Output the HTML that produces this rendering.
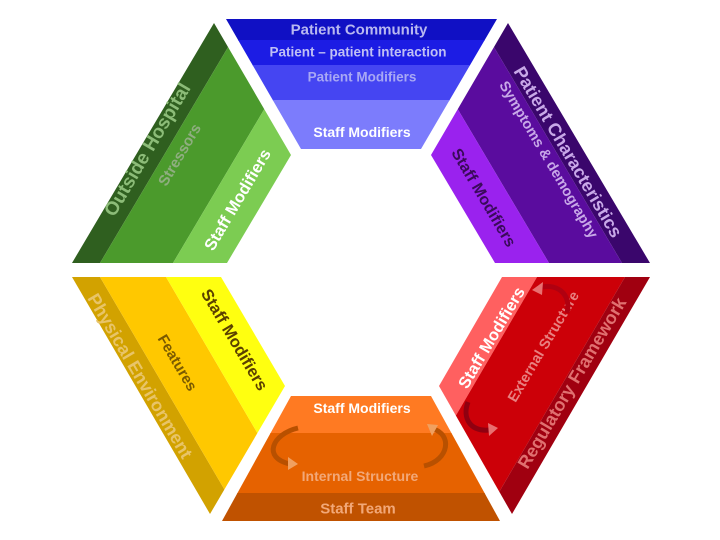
<!DOCTYPE html>
<html><head><meta charset="utf-8"><style>
html,body{margin:0;padding:0;background:#fff;}
svg{display:block;}
text{font-family:"Liberation Sans",sans-serif;font-weight:bold;text-anchor:middle;dominant-baseline:central;}
</style></head><body>
<svg width="720" height="540" viewBox="0 0 720 540" xmlns="http://www.w3.org/2000/svg">
<defs>
<clipPath id="cb"><polygon points="226,19 497,19 421,149 301,149"/></clipPath>
<clipPath id="cg"><polygon points="214,23 291,155 227,263 72,263"/></clipPath>
<clipPath id="cp"><polygon points="508,23 431,155 495,263 650,263"/></clipPath>
<clipPath id="cy"><polygon points="72,277 221,277 285,386 210,514"/></clipPath>
<clipPath id="cr"><polygon points="502,277 650,277 512,514 439,386"/></clipPath>
<clipPath id="co"><polygon points="291,396 431,396 500,521 222,521"/></clipPath>
</defs>

<!-- Blue top -->
<g clip-path="url(#cb)">
<rect x="200" y="0" width="320" height="41" fill="#1010c4"/>
<rect x="200" y="40" width="320" height="26" fill="#1c1ce4"/>
<rect x="200" y="65" width="320" height="36" fill="#4545f2"/>
<rect x="200" y="100" width="320" height="60" fill="#7c7cfc"/>
</g>
<text x="359" y="30" font-size="15" fill="#b8b8f0">Patient Community</text>
<text x="358" y="52" font-size="13.5" fill="#c0c0f4">Patient – patient interaction</text>
<text x="362" y="77" font-size="13.5" fill="#a8a8f4">Patient Modifiers</text>
<text x="362" y="132" font-size="14" fill="#ffffff">Staff Modifiers</text>

<!-- Green -->
<g clip-path="url(#cg)">
<polygon points="40,263 100,263 256,0 196,0" fill="#2f5f1f"/>
<polygon points="100,263 173,263 329,0 256,0" fill="#4b9a2c"/>
<polygon points="173,263 320,263 476,0 329,0" fill="#7ccc52"/>
</g>
<text transform="translate(148,150) rotate(-59.4)" font-size="19" fill="#8cbc78">Outside Hospital</text>
<text transform="translate(180,155) rotate(-59.4)" font-size="15" fill="#8fae80">Stressors</text>
<text transform="translate(238,200) rotate(-59.4)" font-size="16.5" fill="#ffffff">Staff Modifiers</text>

<!-- Purple -->
<g clip-path="url(#cp)">
<polygon points="682,263 622,263 466,0 526,0" fill="#3a066c"/>
<polygon points="622,263 549,263 393,0 466,0" fill="#5a0c9e"/>
<polygon points="549,263 400,263 244,0 393,0" fill="#9a22ee"/>
</g>
<text transform="translate(568,152) rotate(59.4)" font-size="18" fill="#c8a8e8">Patient Characteristics</text>
<text transform="translate(548,160) rotate(59.4)" font-size="14.5" fill="#c8a8e8">Symptoms &amp; demography</text>
<text transform="translate(483,198) rotate(59.4)" font-size="16" fill="#3a0a5a">Staff Modifiers</text>

<!-- Yellow -->
<g clip-path="url(#cy)">
<polygon points="40,277 100,277 254,540 194,540" fill="#d2a200"/>
<polygon points="100,277 166,277 320,540 254,540" fill="#ffc800"/>
<polygon points="166,277 320,277 474,540 320,540" fill="#ffff10"/>
</g>
<text transform="translate(140,376) rotate(59.4)" font-size="18" fill="#e8c468">Physical Environment</text>
<text transform="translate(177,363) rotate(59.4)" font-size="15" fill="#7a5a00">Features</text>
<text transform="translate(234,340) rotate(59.4)" font-size="16.5" fill="#5a4000">Staff Modifiers</text>

<!-- Red -->
<g clip-path="url(#cr)">
<polygon points="400,277 537,277 383,540 246,540" fill="#ff6060"/>
<polygon points="537,277 625,277 471,540 383,540" fill="#cc0008"/>
<polygon points="625,277 690,277 536,540 471,540" fill="#a00010"/>
</g>
<text transform="translate(492,338) rotate(-59.4)" font-size="16.5" fill="#ffffff">Staff Modifiers</text>
<text transform="translate(544,347) rotate(-59.4)" font-size="14.5" fill="#e88080">External Structure</text>
<text transform="translate(572,383) rotate(-59.4)" font-size="18" fill="#e07070">Regulatory Framework</text>
<path d="M567,313 C572,293 555,282 538,288" stroke="#b00010" stroke-width="5" fill="none"/>
<polygon points="532,290 543,282 542,295" fill="#e87070"/>
<path d="M468,402 C462,418 470,432 490,430" stroke="#900010" stroke-width="5" fill="none"/>
<polygon points="498,428 488,423 489,436" fill="#e87070"/>

<!-- Orange -->
<g clip-path="url(#co)">
<rect x="200" y="390" width="320" height="44" fill="#ff7a22"/>
<rect x="200" y="433" width="320" height="61" fill="#e66200"/>
<rect x="200" y="493" width="320" height="30" fill="#c05200"/>
</g>
<text x="362" y="408" font-size="14" fill="#ffffff">Staff Modifiers</text>
<text x="360" y="476" font-size="14" fill="#f2a878">Internal Structure</text>
<text x="358" y="509" font-size="15" fill="#f2a878">Staff Team</text>
<path d="M298,428 C272,434 262,458 290,464" stroke="#b85000" stroke-width="5" fill="none"/>
<polygon points="298,464 288,457 288,470" fill="#f0a060"/>
<path d="M424,466 C450,460 452,434 433,429" stroke="#b85000" stroke-width="5" fill="none"/>
<polygon points="427,424 438,425 432,436" fill="#f0a060"/>
</svg>
</body></html>
